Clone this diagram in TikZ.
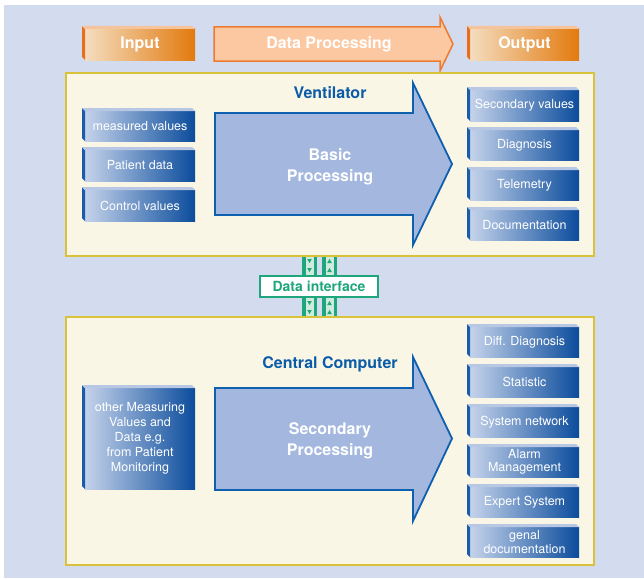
\documentclass[tikz,border=0pt]{standalone}
\usepackage{fontspec}
\setmainfont{TeX Gyre Heros}
\usetikzlibrary{calc}
\definecolor{bgblue}{HTML}{D3DCEE}
\definecolor{panelfill}{HTML}{F9F6E6}
\definecolor{panelline}{HTML}{D9C13A}
\definecolor{arrowfill}{HTML}{A4B8DF}
\definecolor{arrowline}{HTML}{0E5FAE}
\definecolor{titleblue}{HTML}{0B5CA8}
\definecolor{boxlight}{HTML}{C5D3EB}
\definecolor{boxdark}{HTML}{0B4C9C}
\definecolor{boxside}{HTML}{1A5BAA}
\definecolor{boxtop}{HTML}{B8C8E4}
\definecolor{orlight}{HTML}{F4DDBF}
\definecolor{ordark}{HTML}{E37A0E}
\definecolor{orside}{HTML}{EA6C1E}
\definecolor{ortop}{HTML}{F6C49C}
\definecolor{orarrowfill}{HTML}{FBC8A2}
\definecolor{orarrowline}{HTML}{EE7A30}
\definecolor{green}{HTML}{1FA67C}
\definecolor{greenlight}{HTML}{CFEBDD}
\tikzset{
  blueface/.style={rectangle, inner sep=0pt, outer sep=0pt, left color=boxlight, right color=boxdark,
    text=white, align=center, font=\fontsize{12.5}{13.5}\selectfont},
  blueside/.style={fill=boxside},
  bluetop/.style={fill=boxtop},
  orangeface/.style={rectangle, inner sep=0pt, outer sep=0pt, left color=orlight, right color=ordark,
    text=white, align=center, font=\fontsize{16}{18}\selectfont\bfseries},
  orangeside/.style={fill=orside},
  orangetop/.style={fill=ortop},
  panel/.style={rectangle, fill=panelfill, draw=panelline, line width=2.5pt, inner sep=0pt},
  bigarrow/.style={fill=arrowfill, draw=arrowline, line width=1.8pt, line join=miter},
  procText/.style={text=white, align=center, font=\fontsize{16}{21}\selectfont\bfseries},
  title/.style={text=titleblue, font=\fontsize{16}{18}\selectfont\bfseries},
  strip/.style={fill=green},
  stripin/.style={fill=greenlight},
  tri/.style={fill=green},
  ifacebox/.style={rectangle, fill=white, draw=green, line width=1.3pt, text=green,
    minimum width=118pt, minimum height=21pt, inner sep=0pt, font=\fontsize{14}{16}\selectfont\bfseries}
}
\newcommand\bevbox[7][]{%
  \node[#2face, #1, minimum width={#5-#3-3}, minimum height={#6-#4-3}] (#3) at ({(#4+3+#6)/2},{(#5+3+#7)/2}) {};
}
\newcommand\bevboxx[8][]{%
  \node[#2face, #1, minimum width={#6-#4-3}, minimum height={#7-#5-3}] (#3) at ({(#4+3+#6)/2},{(#5+3+#7)/2}) {#8};
  \fill[#2side] (#3.north west) -- ++(-3,-3) -- ($(#3.south west)+(-3,-3)$) -- (#3.south west) -- cycle;
  \fill[#2top] (#3.north west) -- ++(-3,-3) -- ($(#3.north east)+(-3,-3)$) -- (#3.north east) -- cycle;
}
\begin{document}
\begin{tikzpicture}[x=1pt, y=-1pt]
\useasboundingbox (0,0) rectangle (644,578);
\fill[bgblue] (4,5) rectangle (644,578);

% header
\bevboxx{orange}{input}{82}{26}{195}{60}{Input}
\bevboxx{orange}{output}{467}{26}{579}{60}{Output}
\draw[fill=orarrowfill, draw=orarrowline, line width=1.5pt, line join=miter]
  (214,27) -- (440,27) -- (440,17) -- (453,44) -- (440,71) -- (440,61) -- (214,61) -- cycle;
\node[text=white, font=\fontsize{16}{18}\selectfont\bfseries] (dp) at (329,44) {Data Processing};

% panels
\node[panel, minimum width=528pt, minimum height=183pt] (vent) at (330,164.5) {};
\node[panel, minimum width=528pt, minimum height=248pt] (cc) at (330,441) {};

% data interface strips
\fill[strip] ($(vent.south)+(-28,0)$) rectangle ($(cc.north)+(-13,0)$);
\fill[stripin] ($(vent.south)+(-24.5,0)$) rectangle ($(cc.north)+(-16.5,0)$);
\fill[strip] ($(vent.south)+(-8,0)$) rectangle ($(cc.north)+(7,0)$);
\fill[stripin] ($(vent.south)+(-4.5,0)$) rectangle ($(cc.north)+(3.5,0)$);
\foreach \yy in {261,270,303,312}{
  \fill[tri] (307.2,\yy-2) -- (311.8,\yy-2) -- (309.5,\yy+2) -- cycle;
  \fill[tri] (327.2,\yy+2) -- (331.8,\yy+2) -- (329.5,\yy-2) -- cycle;
}
\node[ifacebox] (iface) at (319,286.5) {Data interface};

% ventilator
\node[title] (venttitle) at (330,93) {Ventilator};
\draw[bigarrow] (215,113) -- (413,113) -- (413,83) -- (452,164) -- (413,245) -- (413,215) -- (215,215) -- cycle;
\node[procText] (basic) at (330,167) {Basic\\Processing};
\bevboxx{blue}{mv}{82}{108}{195}{141}{measured values}
\bevboxx{blue}{pd}{82}{147}{195}{181}{Patient data}
\bevboxx{blue}{cv}{82}{187}{195}{221}{Control values}
\bevboxx{blue}{sv}{467}{87}{579}{121}{Secondary values}
\bevboxx{blue}{dg}{467}{127}{579}{160}{Diagnosis}
\bevboxx{blue}{tm}{467}{167}{579}{200}{Telemetry}
\bevboxx{blue}{doc}{467}{207}{579}{240}{Documentation}

% central computer
\node[title] (cctitle) at (330,364.5) {Central Computer};
\draw[bigarrow] (215,388) -- (413,388) -- (413,357) -- (452,438.5) -- (413,521) -- (413,490) -- (215,490) -- cycle;
\node[procText] (secproc) at (330,441) {Secondary\\Processing};
\bevboxx[font=\fontsize{12.5}{15}\selectfont]{blue}{other}{82}{385}{195}{489}{other Measuring\\Values and\\Data e.g.\\from Patient\\Monitoring}
\bevboxx{blue}{diff}{467}{324}{579}{357}{Diff. Diagnosis}
\bevboxx{blue}{stat}{467}{364}{579}{397}{Statistic}
\bevboxx{blue}{sysn}{467}{404}{579}{437}{System network}
\bevboxx{blue}{alarm}{467}{444}{579}{477}{Alarm\\Management}
\bevboxx{blue}{expert}{467}{484}{579}{517}{Expert System}
\bevboxx{blue}{genal}{467}{524}{579}{557}{genal\\documentation}
\end{tikzpicture}
\end{document}
